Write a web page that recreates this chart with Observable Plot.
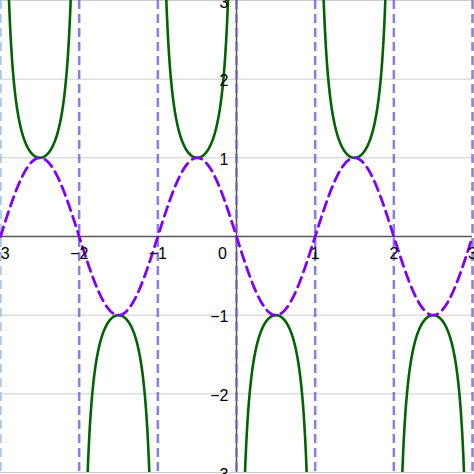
<!DOCTYPE html>
<html>
<head>
<meta charset="utf-8">
<script src="https://cdn.jsdelivr.net/npm/d3@7"></script>
<script src="https://cdn.jsdelivr.net/npm/@observablehq/plot@0.6"></script>
<style>
  html, body { margin: 0; padding: 0; background: #fff; }
  svg { display: block; }
</style>
</head>
<body>
<div id="chart"></div>
<script>
// Graph of y = −sin(πx) (dashed) and its reciprocal y = −csc(πx), with vertical asymptotes
const xDomain = [-3, 3];
const yDomain = [-3, 3];
const xTickValues = [-3, -2, -1, 1, 2, 3];
const yTickValues = [-3, -2, -1, 1, 2, 3];
const gridValues = [-3, -2, -1, 1, 2, 3];
const asymptotes = [-3, -2, -1, 0, 1, 2, 3];
const amplitude = -1;
const samplesPerUnit = 200;

const wave = x => amplitude * Math.sin(Math.PI * x);

// sine sampled across the whole window
const sinePoints = d3.range(xDomain[0] * samplesPerUnit, xDomain[1] * samplesPerUnit + 1)
  .map(i => ({x: i / samplesPerUnit, y: wave(i / samplesPerUnit)}));

// reciprocal, one branch between each pair of neighbouring asymptotes
const cscPoints = [];
for (let k = 0; k < asymptotes.length - 1; k++) {
  const a = asymptotes[k], b = asymptotes[k + 1];
  const n = samplesPerUnit * 4;
  for (let i = 1; i < n; i++) {
    const x = a + (b - a) * i / n;
    const y = 1 / wave(x);
    if (Math.abs(y) <= 4) cscPoints.push({x, y, branch: k});
  }
}

const fmt = d => d < 0 ? "\u2212" + Math.abs(d) : String(d);

const chart = Plot.plot({
  width: 474,
  height: 474,
  marginTop: 0,
  marginLeft: 0,
  marginRight: 2,
  marginBottom: 2,
  x: {domain: xDomain, axis: null},
  y: {domain: yDomain, axis: null},
  style: {fontFamily: "Liberation Sans, Arial, sans-serif", fontSize: "16px", background: "#fff"},
  marks: [
    Plot.ruleY(gridValues, {stroke: "#cccccc", strokeWidth: 1}),
    Plot.ruleY([0], {stroke: "#555555", strokeWidth: 1.5}),
    Plot.ruleX([0], {stroke: "#555555", strokeWidth: 1.5}),
    Plot.ruleX(asymptotes.filter(d => d > xDomain[0]), {stroke: "#6a5fe0", strokeOpacity: 0.8, strokeWidth: 2.5, strokeDasharray: "9,5"}),
    Plot.ruleX([xDomain[0]], {stroke: "#a9c6ee", strokeWidth: 2.5, strokeDasharray: "9,5"}),
    Plot.line(cscPoints, {x: "x", y: "y", z: "branch", stroke: "#006400", strokeWidth: 2.6, clip: true}),
    Plot.line(sinePoints, {x: "x", y: "y", stroke: "#7f00ff", strokeWidth: 2.8, strokeDasharray: "10,6", clip: true}),
    Plot.text(xTickValues, {x: d => d, y: 0, text: fmt, dy: 17, fill: "#000"}),
    Plot.text(yTickValues, {x: 0, y: d => d, text: fmt, dx: -8, dy: 2, textAnchor: "end", fill: "#000"}),
    Plot.text([0], {x: 0, y: 0, text: ["0"], dx: -14, dy: 17, fill: "#000"})
  ]
});
document.getElementById("chart").append(chart);
</script>
</body>
</html>
